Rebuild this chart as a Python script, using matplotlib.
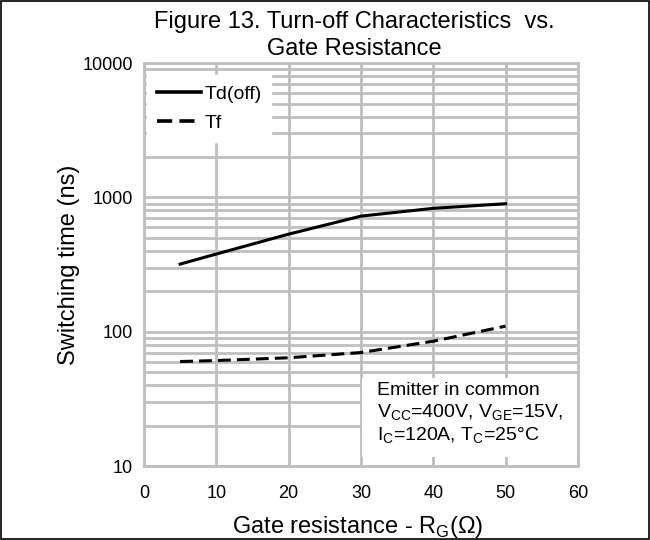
import matplotlib
matplotlib.use("Agg")
import matplotlib.pyplot as plt
from matplotlib.patches import Rectangle

plt.rcParams['font.family'] = ['Liberation Sans', 'DejaVu Sans']

# gate resistance (ohm)
rg = [5, 10, 20, 30, 40, 50]
# switching times (ns)
td_off = [319, 379, 533, 726, 830, 898]
tf = [60, 61, 64, 70, 85, 110]

x_ticks = [0, 10, 20, 30, 40, 50, 60]
y_ticks = [10, 100, 1000, 10000]

grid_col = '#BFBFBF'

fig = plt.figure(figsize=(6.5, 5.4), dpi=100)
ax = fig.add_axes([0.2215, 0.137, 0.6675, 0.746])

ax.plot(rg, td_off, color='black', lw=2.2, label='Td(off)', zorder=3)
ax.plot(rg, tf, color='black', lw=2.2, linestyle=(0, (4.2, 2)), label='Tf', zorder=3)

ax.set_yscale('log')
ax.set_xlim(0, 60)
ax.set_ylim(10, 10000)
ax.set_xticks(x_ticks)
ax.set_xticklabels([str(v) for v in x_ticks])
ax.set_yticks(y_ticks)
ax.set_yticklabels([str(v) for v in y_ticks])
ax.tick_params(which='both', length=0, labelsize=13)
ax.tick_params(axis='x', pad=14)
ax.tick_params(axis='y', pad=8)

ax.grid(True, which='major', color=grid_col, lw=2)
ax.grid(True, which='minor', axis='y', color=grid_col, lw=2)
ax.set_axisbelow(True)
for s in ax.spines.values():
    s.set_color(grid_col)
    s.set_linewidth(2)
    s.set_zorder(5)

ax.set_xlabel('Gate resistance - R$_\\mathregular{G}$(Ω)', fontsize=17)
ax.set_ylabel('Switching time (ns)', fontsize=17)
ax.xaxis.set_label_coords(0.493, -0.118)
ax.yaxis.set_label_coords(-0.147, 0.5)
ax.set_title('Figure 13. Turn-off Characteristics  vs.\nGate Resistance', fontsize=17, pad=6,
             x=0.484, linespacing=1.3)

leg = ax.legend(loc='upper left', bbox_to_anchor=(0.007, 0.970), frameon=True, fancybox=False,
                edgecolor='white', framealpha=1, fontsize=14, handlelength=2.3,
                handletextpad=0.15, borderaxespad=0, borderpad=0.5, labelspacing=0.6)
for h in leg.get_lines():
    h.set_linewidth(2.6)

# white box behind the test conditions
ax.add_patch(Rectangle((0.502, 0.022), 0.498, 0.196, transform=ax.transAxes,
                       facecolor='white', edgecolor='none', zorder=4))
ax.text(0.537, 0.129, 'Emitter in common\n'
        'V$_\\mathregular{CC}$=400V, V$_\\mathregular{GE}$=15V,\n'
        'I$_\\mathregular{C}$=120A, T$_\\mathregular{C}$=25°C',
        transform=ax.transAxes, fontsize=14, va='center', ha='left', linespacing=1.2,
        zorder=4)

fig.patches.append(Rectangle((0.001, 0.001), 0.997, 0.997, transform=fig.transFigure,
                             fill=False, edgecolor='black', lw=1.2))

fig.savefig('out.png', dpi=100)
